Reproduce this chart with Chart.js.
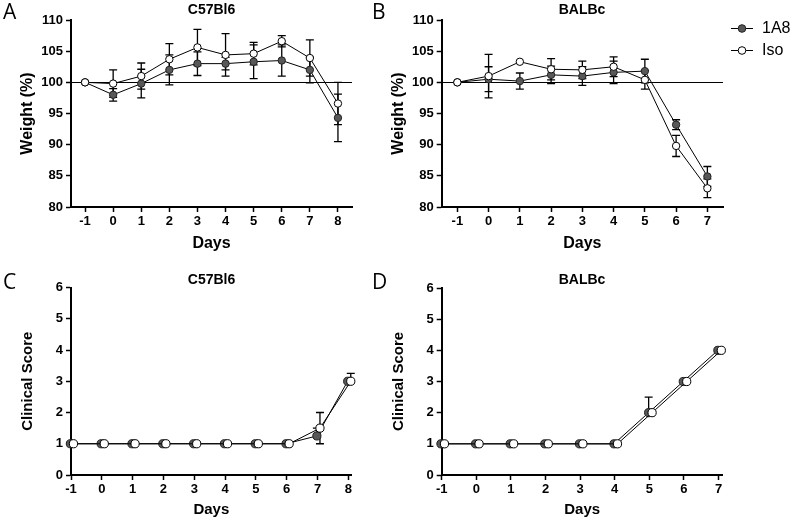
<!DOCTYPE html>
<html>
<head>
<meta charset="utf-8">
<script src="https://cdn.jsdelivr.net/npm/chart.js@4.4.1/dist/chart.umd.min.js"></script>
<style>
body { margin: 0; background: #fff; }
#wrap { position: relative; width: 800px; height: 521px; overflow: hidden; background: #fff; font-family: "Liberation Sans", Arial, sans-serif; color: #000; }
canvas { position: absolute; }
.letter { position: absolute; font-family: "Open Sans", sans-serif; font-size: 21px; line-height: 21px; z-index: 2; }
.ttl { position: absolute; font-weight: bold; font-size: 14px; line-height: 14px; transform: translate(-50%, -50%); white-space: nowrap; z-index: 2; }
.leg { position: absolute; font-size: 16px; line-height: 16px; z-index: 2; }
.mk { position: absolute; z-index: 2; }
</style>
</head>
<body>
<div id="wrap">
  <canvas id="cA" width="400" height="260" style="left:0;top:0"></canvas>
  <canvas id="cB" width="420" height="260" style="left:380px;top:0"></canvas>
  <canvas id="cC" width="400" height="261" style="left:0;top:260px"></canvas>
  <canvas id="cD" width="420" height="261" style="left:380px;top:260px"></canvas>

  <div class="letter" style="left:3px;top:1px">A</div>
  <div class="letter" style="left:372px;top:1px">B</div>
  <div class="letter" style="left:3px;top:271px">C</div>
  <div class="letter" style="left:372px;top:271px">D</div>

  <div class="ttl" style="left:211.5px;top:9px">C57Bl6</div>
  <div class="ttl" style="left:582px;top:9px">BALBc</div>
  <div class="ttl" style="left:211.5px;top:279px">C57Bl6</div>
  <div class="ttl" style="left:582px;top:279px">BALBc</div>

  <svg class="mk" style="left:731px;top:23px" width="22" height="11">
    <line x1="0" y1="5.5" x2="22" y2="5.5" stroke="#000" stroke-width="1"/>
    <circle cx="11" cy="5.5" r="3.8" fill="#585858" stroke="#222" stroke-width="1"/>
  </svg>
  <svg class="mk" style="left:731px;top:45px" width="22" height="11">
    <line x1="0" y1="5.5" x2="22" y2="5.5" stroke="#000" stroke-width="1"/>
    <circle cx="11" cy="5.5" r="3.8" fill="#fff" stroke="#000" stroke-width="1"/>
  </svg>
  <div class="leg" style="left:762px;top:20px">1A8</div>
  <div class="leg" style="left:762px;top:42px">Iso</div>
</div>

<script>
// days
const daysC57 = [-1, 0, 1, 2, 3, 4, 5, 6, 7, 8]
const daysBALB = [-1, 0, 1, 2, 3, 4, 5, 6, 7]

// weight (%), mean and error (symmetric)
const weightC57_1A8 = [100, 98.0, 99.8, 102.0, 103.0, 103.0, 103.3, 103.5, 102.0, 94.3]
const weightC57_1A8_err = [0, 1.0, 2.3, 2.4, 1.9, 1.0, 2.7, 2.5, 2.1, 3.8]
const weightC57_Iso = [100, 99.8, 101.0, 103.7, 105.6, 104.4, 104.6, 106.6, 103.9, 96.6]
const weightC57_Iso_err = [0, 2.2, 2.1, 2.5, 2.9, 3.4, 1.8, 0.9, 2.9, 3.4]

const weightBALB_1A8 = [100, 100.5, 100.2, 101.2, 101.0, 101.6, 101.8, 93.2, 84.9]
const weightBALB_1A8_err = [0, 2.0, 1.3, 1.4, 1.5, 1.8, 1.9, 0.8, 1.6]
const weightBALB_Iso = [100, 101.0, 103.3, 102.1, 102.0, 102.5, 100.4, 89.8, 83.0]
const weightBALB_Iso_err = [0, 3.5, 0, 1.7, 1.4, 1.6, 1.5, 1.7, 1.5]

// clinical score, upper and lower error
const scoreC57_1A8 = [1, 1, 1, 1, 1, 1, 1, 1, 1.25, 3]
const scoreC57_1A8_err = [0, 0, 0, 0, 0, 0, 0, 0, 0.25, 0]
const scoreC57_1A8_errLow = [0, 0, 0, 0, 0, 0, 0, 0, 0, 0]
const scoreC57_Iso = [1, 1, 1, 1, 1, 1, 1, 1, 1.5, 3]
const scoreC57_Iso_err = [0, 0, 0, 0, 0, 0, 0, 0, 0.5, 0.25]
const scoreC57_Iso_errLow = [0, 0, 0, 0, 0, 0, 0, 0, 0.5, 0]

const scoreBALB_1A8 = [1, 1, 1, 1, 1, 1, 2, 3, 4]
const scoreBALB_1A8_err = [0, 0, 0, 0, 0, 0, 0.5, 0, 0]
const scoreBALB_1A8_errLow = [0, 0, 0, 0, 0, 0, 0, 0, 0]
const scoreBALB_Iso = [1, 1, 1, 1, 1, 1, 2, 3, 4]
const scoreBALB_Iso_err = [0, 0, 0, 0, 0, 0, 0, 0, 0]

const weightTicks = [80, 85, 90, 95, 100, 105, 110]
const scoreTicks = [0, 1, 2, 3, 4, 5, 6]

const FONT = '"Liberation Sans", Arial, sans-serif'
Chart.defaults.font.family = FONT
Chart.defaults.color = '#000'

// error bars drawn behind the points
const errorBars = {
	id: 'errorBars',
	beforeDatasetsDraw(chart) {
		const {ctx, scales: {x, y}} = chart
		ctx.save()
		ctx.strokeStyle = '#000'
		ctx.lineWidth = 1.3
		chart.data.datasets.forEach(ds => {
			if (!ds.err) return
			ds.data.forEach((p, i) => {
				const up = ds.err[i]
				const down = ds.errLow ? ds.errLow[i] : up
				if (!up && !down) return
				const px = x.getPixelForValue(p.x)
				const py = y.getPixelForValue(p.y)
				ctx.beginPath()
				if (up) {
					const top = y.getPixelForValue(p.y + up)
					ctx.moveTo(px, py); ctx.lineTo(px, top)
					ctx.moveTo(px - 4, top); ctx.lineTo(px + 4, top)
				}
				if (down) {
					const bot = y.getPixelForValue(p.y - down)
					ctx.moveTo(px, py); ctx.lineTo(px, bot)
					ctx.moveTo(px - 4, bot); ctx.lineTo(px + 4, bot)
				}
				ctx.stroke()
			})
		})
		ctx.restore()
	}
}

// 100 % reference line
const refLine = {
	id: 'refLine',
	beforeDatasetsDraw(chart, args, opts) {
		if (opts.value === undefined) return
		const {ctx, chartArea, scales: {y}} = chart
		const py = Math.round(y.getPixelForValue(opts.value)) + 0.5
		ctx.save()
		ctx.strokeStyle = '#000'
		ctx.lineWidth = 1
		ctx.beginPath()
		ctx.moveTo(chartArea.left, py)
		ctx.lineTo(chartArea.right, py)
		ctx.stroke()
		ctx.restore()
	}
}

function series(days, vals, err, errLow, style, shift, r) {
	return {
		data: days.map((d, i) => ({x: d + shift, y: vals[i]})),
		err: err,
		errLow: errLow,
		borderColor: '#000',
		borderWidth: 1,
		pointRadius: r,
		pointBorderWidth: 1,
		pointBackgroundColor: style === 'gray' ? '#585858' : '#fff',
		pointBorderColor: style === 'gray' ? '#222' : '#000',
		order: style === 'gray' ? 2 : 1,
		clip: false,
		tension: 0
	}
}

function makeChart(id, o) {
	return new Chart(document.getElementById(id), {
		type: 'line',
		data: {datasets: o.datasets},
		plugins: [errorBars, refLine],
		options: {
			responsive: false,
			animation: false,
			events: [],
			layout: {padding: o.pad},
			plugins: {
				legend: {display: false},
				tooltip: {enabled: false},
				refLine: {value: o.ref}
			},
			scales: {
				x: {
					type: 'linear',
					min: o.xmin,
					max: o.xmax,
					afterBuildTicks: s => { s.ticks = o.days.map(v => ({value: v})) },
					afterFit: s => { s.height = o.xH },
					ticks: {
						autoSkip: false,
						maxRotation: 0,
						padding: 2,
						color: '#000',
						font: {size: 13, weight: 'bold'},
						callback: v => String(v)
					},
					grid: {drawOnChartArea: false, drawTicks: true, tickLength: 5, tickColor: '#000', tickWidth: 1.5},
					border: {color: '#000', width: 2},
					title: {display: true, text: 'Days', color: '#000', font: {size: o.titleSize, weight: 'bold'}, padding: {top: 0, bottom: o.xTitlePad}}
				},
				y: {
					min: o.ymin,
					max: o.ymax,
					afterBuildTicks: s => { s.ticks = o.yticks.map(v => ({value: v})) },
					afterFit: s => { s.width = o.yW },
					ticks: {
						padding: 3,
						color: '#000',
						font: {size: 13, weight: 'bold'},
						callback: v => String(v)
					},
					grid: {drawOnChartArea: false, drawTicks: true, tickLength: 5, tickColor: '#000', tickWidth: 1.5},
					border: {color: '#000', width: 2},
					title: {display: true, text: o.ylabel, color: '#000', font: {size: o.titleSize, weight: 'bold'}, padding: {top: o.yTitlePad, bottom: 0}}
				}
			}
		}
	})
}

const GRAY_SHIFT = -0.02
const WHITE_SHIFT = 0.08

makeChart('cA', {
	days: daysC57, xmin: -1.5, xmax: 8.5,
	ymin: 80, ymax: 110, yticks: weightTicks, ref: 100,
	ylabel: 'Weight (%)', titleSize: 16,
	pad: {left: 0, right: 48, top: 20, bottom: 0}, yW: 71, xH: 53, xTitlePad: 7, yTitlePad: 18.4,
	datasets: [
		series(daysC57, weightC57_1A8, weightC57_1A8_err, null, 'gray', 0, 3.7),
		series(daysC57, weightC57_Iso, weightC57_Iso_err, null, 'white', 0, 3.7)
	]
})

makeChart('cB', {
	days: daysBALB, xmin: -1.5, xmax: 7.5,
	ymin: 80, ymax: 110, yticks: weightTicks, ref: 100,
	ylabel: 'Weight (%)', titleSize: 16,
	pad: {left: 0, right: 77, top: 20, bottom: 0}, yW: 61.7, xH: 53, xTitlePad: 7, yTitlePad: 9.4,
	datasets: [
		series(daysBALB, weightBALB_1A8, weightBALB_1A8_err, null, 'gray', 0, 3.7),
		series(daysBALB, weightBALB_Iso, weightBALB_Iso_err, null, 'white', 0, 3.7)
	]
})

makeChart('cC', {
	days: daysC57, xmin: -1, xmax: 8.11,
	ymin: 0, ymax: 6, yticks: scoreTicks,
	ylabel: 'Clinical Score', titleSize: 15,
	pad: {left: 0, right: 48.3, top: 27.5, bottom: 0}, yW: 71, xH: 46, xTitlePad: 2, yTitlePad: 19,
	datasets: [
		series(daysC57, scoreC57_1A8, scoreC57_1A8_err, scoreC57_1A8_errLow, 'gray', GRAY_SHIFT, 4.1),
		series(daysC57, scoreC57_Iso, scoreC57_Iso_err, scoreC57_Iso_errLow, 'white', WHITE_SHIFT, 4.1)
	]
})

makeChart('cD', {
	days: daysBALB, xmin: -1, xmax: 7.12,
	ymin: 0, ymax: 6, yticks: scoreTicks,
	ylabel: 'Clinical Score', titleSize: 15,
	pad: {left: 0, right: 77.3, top: 28, bottom: 0}, yW: 61.7, xH: 46, xTitlePad: 2, yTitlePad: 10,
	datasets: [
		series(daysBALB, scoreBALB_1A8, scoreBALB_1A8_err, scoreBALB_1A8_errLow, 'gray', GRAY_SHIFT, 4.1),
		series(daysBALB, scoreBALB_Iso, scoreBALB_Iso_err, null, 'white', WHITE_SHIFT, 4.1)
	]
})
</script>
</body>
</html>
